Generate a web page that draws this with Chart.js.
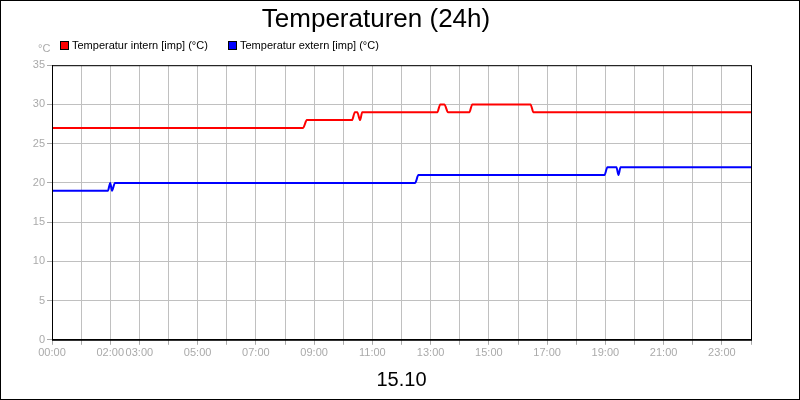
<!DOCTYPE html>
<html><head><meta charset="utf-8">
<script src="https://cdn.jsdelivr.net/npm/chart.js@4/dist/chart.umd.min.js"></script>
<style>html,body{margin:0;padding:0;background:#fff}#w{width:798px;height:398px;border:1px solid #000}</style>
</head><body><div id="w"><canvas id="c"></canvas></div>
<script>
const internX=[0,8.62,8.75,10.3,10.4,10.48,10.58,10.65,13.23,13.33,13.47,13.6,14.33,14.43,16.43,16.53,24];
const internY=[27,27,28,28,29,29,28,29,29,30,30,29,29,30,30,29,29];
const externX=[0,1.92,2.0,2.06,2.16,12.47,12.58,18.97,19.07,19.38,19.45,19.52,24];
const externY=[19,19,20,19,20,20,21,21,22,22,21,22,22];
const xLabels={0:'00:00',2:'02:00',3:'03:00',5:'05:00',7:'07:00',9:'09:00',11:'11:00',13:'13:00',15:'15:00',17:'17:00',19:'19:00',21:'21:00',23:'23:00'};
const legendX=[59,227];
const font='"Liberation Sans", Arial, sans-serif';
const pts=(xs,ys)=>xs.map((x,i)=>({x,y:ys[i]}));
const extras={id:'extras',afterDraw(ch){const c=ch.ctx,a=ch.chartArea;c.save();
c.strokeStyle='#000';c.lineWidth=1;c.strokeRect(a.left+0.5,a.top+0.5,a.right-a.left,a.bottom-a.top);
c.fillStyle='#aaa';c.font='11px '+font;c.textAlign='left';c.textBaseline='middle';c.fillText('°C',37,48);
ch.data.datasets.forEach((d,i)=>{const x=legendX[i];c.fillStyle=d.borderColor;c.fillRect(x,40,9,9);c.strokeStyle='#000';c.strokeRect(x+0.5,40.5,8,8);
c.fillStyle='#000';c.font='11px '+font;c.textAlign='left';c.fillText(d.label,x+12,45);});
c.fillStyle='#000';c.font='20px '+font;c.textAlign='center';c.fillText('15.10',(a.left+a.right)/2,379);
c.restore();}};
new Chart(document.getElementById('c'),{type:'line',
data:{datasets:[
{label:'Temperatur intern [imp] (°C)',data:pts(internX,internY),borderColor:'#ff0000',backgroundColor:'#ff0000',borderWidth:2,pointRadius:0,cubicInterpolationMode:'monotone'},
{label:'Temperatur extern [imp] (°C)',data:pts(externX,externY),borderColor:'#0000ff',backgroundColor:'#0000ff',borderWidth:2,pointRadius:0,cubicInterpolationMode:'monotone'}]},
options:{responsive:true,maintainAspectRatio:false,animation:false,
layout:{padding:{left:0,right:48,top:0,bottom:37}},
plugins:{title:{display:true,text:'Temperaturen (24h)',color:'#000',font:{family:font,size:26,weight:'normal'},padding:{top:3,bottom:30}},
legend:{display:false},tooltip:{enabled:false}},
scales:{
x:{type:'linear',min:0,max:24,grid:{color:'#c0c0c0',tickLength:5,tickColor:'#aaa'},border:{color:'#000'},
ticks:{stepSize:1,autoSkip:false,maxRotation:0,color:'#aaa',font:{family:font,size:11},padding:2,callback:v=>xLabels[v]||''}},
y:{min:0,max:35,grid:{color:'#c0c0c0',tickLength:5,tickColor:'#aaa'},border:{color:'#000'},
afterFit(s){s.width=51;},
ticks:{stepSize:5,color:'#aaa',font:{family:font,size:11},padding:2}}}},
plugins:[extras]});
</script></body></html>
